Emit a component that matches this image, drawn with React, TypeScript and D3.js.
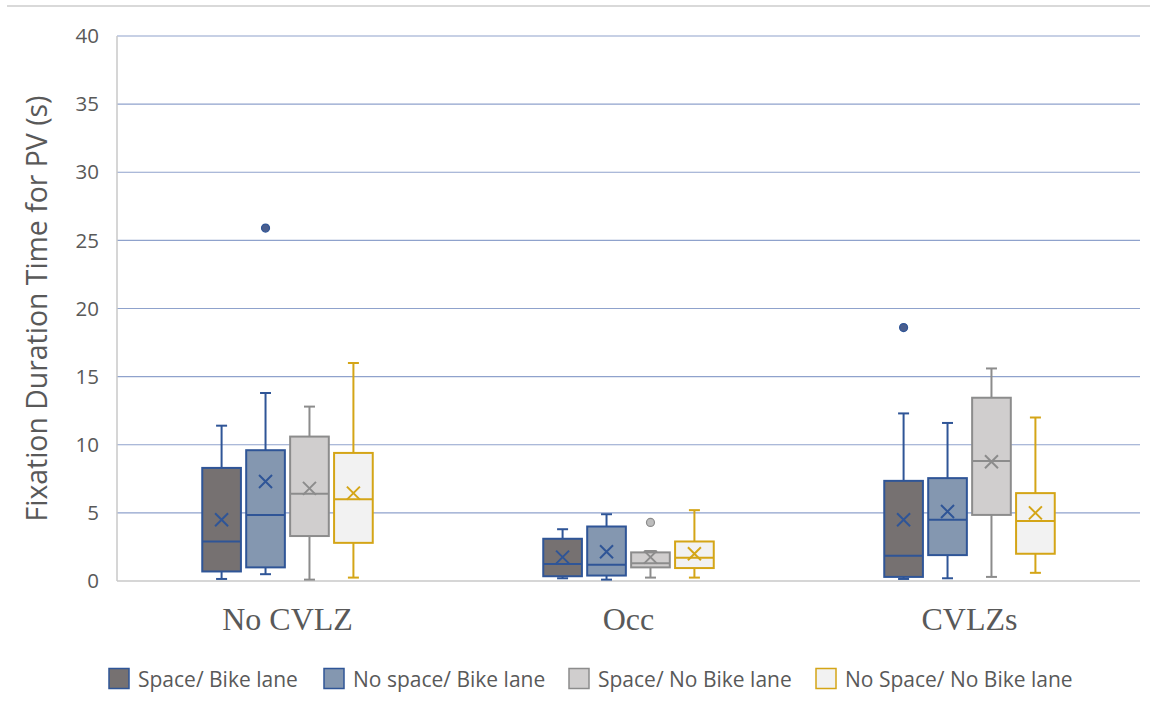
import React from "react";
import * as d3 from "d3";

const categories = ["No CVLZ", "Occ", "CVLZs"];
const seriesNames = ["Space/ Bike lane", "No space/ Bike lane", "Space/ No Bike lane", "No Space/ No Bike lane"];
const seriesFill = ["#767171", "#8497B0", "#D0CECE", "#F2F2F2"];
const seriesStroke = ["#2F5597", "#2F5597", "#8C8C8C", "#D4A517"];
const outlierFill = ["#4A5E8E", "#4A5E8E", "#BDBDBD", "#F2F2F2"];

// [min, q1, median, q3, max, mean] per category per series
const noCvlz = [
  [0.15, 0.7, 2.9, 8.3, 11.4, 4.5],
  [0.5, 1.0, 4.85, 9.6, 13.8, 7.3],
  [0.1, 3.3, 6.4, 10.6, 12.8, 6.8],
  [0.25, 2.8, 6.0, 9.4, 16.0, 6.45],
];
const occ = [
  [0.2, 0.35, 1.25, 3.1, 3.8, 1.75],
  [0.1, 0.4, 1.2, 4.0, 4.9, 2.15],
  [0.25, 1.0, 1.3, 2.1, 2.2, 1.75],
  [0.25, 0.95, 1.7, 2.9, 5.2, 2.0],
];
const cvlzs = [
  [0.15, 0.3, 1.85, 7.35, 12.3, 4.5],
  [0.2, 1.9, 4.5, 7.55, 11.6, 5.1],
  [0.3, 4.85, 8.8, 13.45, 15.6, 8.75],
  [0.6, 2.0, 4.4, 6.45, 12.0, 5.0],
];
const stats = [noCvlz, occ, cvlzs];
// outliers: [category, series, value]
const outliers: [number, number, number][] = [
  [0, 1, 25.9],
  [1, 2, 4.3],
  [2, 0, 18.6],
];
const yTicks = [0, 5, 10, 15, 20, 25, 30, 35, 40];

export default function App() {
  const W = 1156, H = 724;
  const left = 117, right = 1140, top = 36, bottom = 581;
  const y = d3.scaleLinear().domain([0, 40]).range([bottom, top]);
  const x = d3.scaleBand<string>().domain(categories).range([left, right]).padding(0);
  const groupW = x.bandwidth() * 0.5;
  const inner = d3
    .scaleBand<number>()
    .domain([0, 1, 2, 3])
    .range([-groupW / 2, groupW / 2])
    .paddingInner(0.12)
    .paddingOuter(0);
  const bw = inner.bandwidth();
  const cap = 11;
  const xs = 6.5;
  const txt = "#595959";

  return (
    <div style={{ position: "absolute", left: 0, top: 0 }}>
      <svg width={W} height={H} style={{ display: "block", background: "#fff" }}>
        <line x1={7} x2={1150} y1={6} y2={6} stroke="#D9D9D9" strokeWidth={2} />
        {yTicks.map((t) => (
          <g key={t}>
            {t > 0 && <line x1={left} x2={right} y1={y(t)} y2={y(t)} stroke="#8FA2CC" strokeWidth={1.2} />}
            <text
              x={99}
              y={y(t)}
              dy="0.35em"
              textAnchor="end"
              fontFamily="'Open Sans', sans-serif"
              fontSize={20.5}
              fill={txt}
            >
              {t}
            </text>
          </g>
        ))}
        <line x1={left} x2={left} y1={top} y2={bottom} stroke="#C8C8C8" strokeWidth={1.5} />
        <line x1={left} x2={right} y1={bottom} y2={bottom} stroke="#C8C8C8" strokeWidth={1.5} />
        <text
          transform={`translate(47,308.5) rotate(-90)`}
          textAnchor="middle"
          fontFamily="'Open Sans', sans-serif"
          fontSize={28.4}
          fill={txt}
        >
          Fixation Duration Time for PV (s)
        </text>
        {categories.map((c, ci) => {
          const cx = (x(c) as number) + x.bandwidth() / 2;
          return (
            <g key={c}>
              <text
                x={cx}
                y={630}
                textAnchor="middle"
                fontFamily="'Liberation Serif', 'Times New Roman', serif"
                fontSize={32}
                fill={txt}
              >
                {c}
              </text>
              {stats[ci].map((s, si) => {
                const [mn, q1, md, q3, mx, mean] = s;
                const x0 = cx + (inner(si) as number);
                const mid = x0 + bw / 2;
                const st = seriesStroke[si];
                return (
                  <g key={si}>
                    <line x1={mid} x2={mid} y1={y(mx)} y2={y(q3)} stroke={st} strokeWidth={2} />
                    <line x1={mid} x2={mid} y1={y(q1)} y2={y(mn)} stroke={st} strokeWidth={2} />
                    <line x1={mid - cap / 2} x2={mid + cap / 2} y1={y(mx)} y2={y(mx)} stroke={st} strokeWidth={2} />
                    <line x1={mid - cap / 2} x2={mid + cap / 2} y1={y(mn)} y2={y(mn)} stroke={st} strokeWidth={2} />
                    <rect
                      x={x0}
                      y={y(q3)}
                      width={bw}
                      height={y(q1) - y(q3)}
                      fill={seriesFill[si]}
                      stroke={st}
                      strokeWidth={2}
                    />
                    <line x1={x0} x2={x0 + bw} y1={y(md)} y2={y(md)} stroke={st} strokeWidth={2} />
                    <path
                      d={`M${mid - xs},${y(mean) - xs}L${mid + xs},${y(mean) + xs}M${mid - xs},${y(mean) + xs}L${mid + xs},${y(mean) - xs}`}
                      stroke={st}
                      strokeWidth={2}
                      fill="none"
                    />
                  </g>
                );
              })}
            </g>
          );
        })}
        {outliers.map(([ci, si, v], i) => {
          const cx = (x(categories[ci]) as number) + x.bandwidth() / 2 + (inner(si) as number) + bw / 2;
          return (
            <circle key={i} cx={cx} cy={y(v)} r={4} fill={outlierFill[si]} stroke={seriesStroke[si]} strokeWidth={1.2} />
          );
        })}
        {seriesNames.map((n, i) => {
          const lx = [108, 323, 568, 815][i];
          return (
            <g key={n}>
              <rect x={lx + 1} y={668.5} width={20} height={20} fill={seriesFill[i]} stroke={seriesStroke[i]} strokeWidth={1.5} />
              <text
                x={lx + 30}
                y={680}
                dy="0.35em"
                fontFamily="'Open Sans', sans-serif"
                fontSize={21}
                fill={txt}
              >
                {n}
              </text>
            </g>
          );
        })}
      </svg>
    </div>
  );
}
